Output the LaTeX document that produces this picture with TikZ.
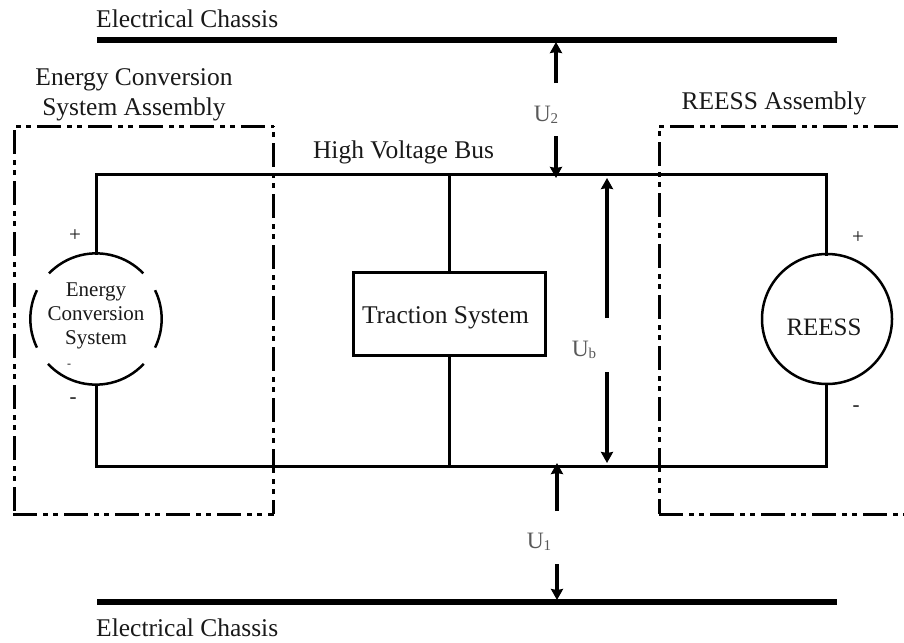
\documentclass[tikz,border=0pt]{standalone}
\usepackage{fontspec}
\setmainfont{Liberation Serif}
\usetikzlibrary{arrows.meta}
\newcommand{\fs}[1]{\fontsize{#1}{#1}\selectfont}
\tikzset{
  wire/.style={line width=3pt,line cap=rect,line join=miter},
  chassis/.style={line width=6pt},
  frameline/.style={line width=3pt,dash pattern=on 24pt off 6pt on 5pt off 5pt on 5pt off 6pt},
  volt/.style={line width=4pt,-{Stealth[length=11pt,width=12pt,inset=1pt]}},
  lab/.style={inner sep=0pt,anchor=base west,text=black!90},
  ctr/.style={inner sep=0pt,anchor=base,text=black!90},
  ulab/.style={inner sep=0pt,anchor=base,text=black!65},
}
\begin{document}
\begin{tikzpicture}[x=1pt,y=-1pt]
\useasboundingbox (0,0) rectangle (904,642);
% chassis
\coordinate (tl) at (97,40); \coordinate (tr) at (837,40);
\coordinate (bl) at (97,602); \coordinate (br) at (837,602);
\draw[chassis] (tl) -- (tr);
\draw[chassis] (bl) -- (br);
% left frame
\coordinate (fa) at (14,126); \coordinate (fb) at (273.5,126); \coordinate (fc) at (273.5,514); \coordinate (fd) at (13,514); \coordinate (fe) at (14,514);
\draw[frameline,dash phase=28pt] (fa) -- (fb);
\draw[frameline,dash phase=34pt] (fb) -- (fc);
\draw[frameline] (fd) -- (fc);
\draw[frameline,dash phase=47pt] (fa) -- (fe);
% right frame
\coordinate (ga) at (904,126); \coordinate (gb) at (659,126); \coordinate (gc) at (659,514); \coordinate (gd) at (904,514);
\draw[frameline,dash phase=40pt] (gb) -- (ga);
\draw[frameline,dash phase=35pt] (gb) -- (gc);
\draw[frameline] (gc) -- (gd);
% bus
\coordinate (r1) at (96.5,174); \coordinate (r2) at (826,174); \coordinate (r3) at (826,466); \coordinate (r4) at (96.5,466);
\node[circle,minimum size=131pt,inner sep=0pt] (ecs) at (96,319) {};
\node[circle,draw,line width=2.5pt,minimum size=130pt,inner sep=0pt] (reess) at (827,319) {};
\node[draw,line width=3pt,minimum width=191.5pt,minimum height=83pt,inner sep=0pt] (trac) at (449.3,313.7) {};
\coordinate (rn) at (826,254); \coordinate (rs) at (826,384);
\coordinate (en) at (96.5,253); \coordinate (es) at (96.5,385);
\draw[wire] (en) -- (r1) -- (r2) -- (rn);
\draw[wire] (es) -- (r4) -- (r3) -- (rs);
\coordinate (mt) at (trac.north |- r1); \coordinate (mb) at (trac.south |- r4);
\draw[wire] (mt) -- (trac.north);
\draw[wire] (mb) -- (trac.south);
% broken circle
\draw[line width=2.5pt] (ecs.44) arc[start angle=44,end angle=136,radius=65.5pt];
\draw[line width=2.5pt] (ecs.26) arc[start angle=26,end angle=-26,radius=65.5pt];
\draw[line width=2.5pt] (ecs.154) arc[start angle=154,end angle=206,radius=65.5pt];
\draw[line width=2.5pt] (ecs.223) arc[start angle=223,end angle=317,radius=65.5pt];
% voltage arrows
\coordinate (u2a) at (556,83); \coordinate (u2b) at (556,42);
\coordinate (u2c) at (556,136); \coordinate (u2d) at (556,178);
\coordinate (uba) at (607,318); \coordinate (ubb) at (607,178);
\coordinate (ubc) at (607,372); \coordinate (ubd) at (607,463);
\coordinate (u1a) at (557,511); \coordinate (u1b) at (557,463);
\coordinate (u1c) at (557,564); \coordinate (u1d) at (557,600);
\draw[volt] (u2a) -- (u2b);
\draw[volt] (u2c) -- (u2d);
\draw[volt] (uba) -- (ubb);
\draw[volt] (ubc) -- (ubd);
\draw[volt] (u1a) -- (u1b);
\draw[volt] (u1c) -- (u1d);
% text
\node[lab] (t1) at (96,28) {\fs{25.5}Electrical Chassis};
\node[lab] (t2) at (96,636) {\fs{25.5}Electrical Chassis};
\node[ctr] (t3) at (134,85) {\fs{25.5}Energy Conversion};
\node[ctr] (t4) at (134,115) {\fs{25.5}System Assembly};
\node[ctr] (t5) at (774,109) {\fs{25.5}REESS Assembly};
\node[ctr] (t6) at (403.5,158) {\fs{25.5}High Voltage Bus};
\node[ctr] (t7) at (445.5,323) {\fs{25.5}Traction System};
\node[ctr] (t8) at (824,335) {\fs{25}REESS};
\node[ctr] (t9) at (96,296) {\fs{21}Energy};
\node[ctr] (t10) at (96,320) {\fs{21}Conversion};
\node[ctr] (t11) at (96,344) {\fs{21}System};
\node[ctr] (t12) at (75,241) {\fs{21}+};
\node[ctr] (t13) at (69,367) {\fs{12}-};
\node[ctr] (t14) at (73,403) {\fs{21}-};
\node[ctr] (t15) at (858,243) {\fs{21}+};
\node[ctr] (t16) at (856,411) {\fs{21}-};
\node[ulab] (t17) at (546,121) {\fs{23.5}U\fs{15}\raisebox{-2pt}{2}};
\node[ulab] (t18) at (584,356) {\fs{23.5}U\fs{15}\raisebox{-2pt}{b}};
\node[ulab] (t19) at (539,548) {\fs{23.5}U\fs{15}\raisebox{-2pt}{1}};
\end{tikzpicture}
\end{document}
